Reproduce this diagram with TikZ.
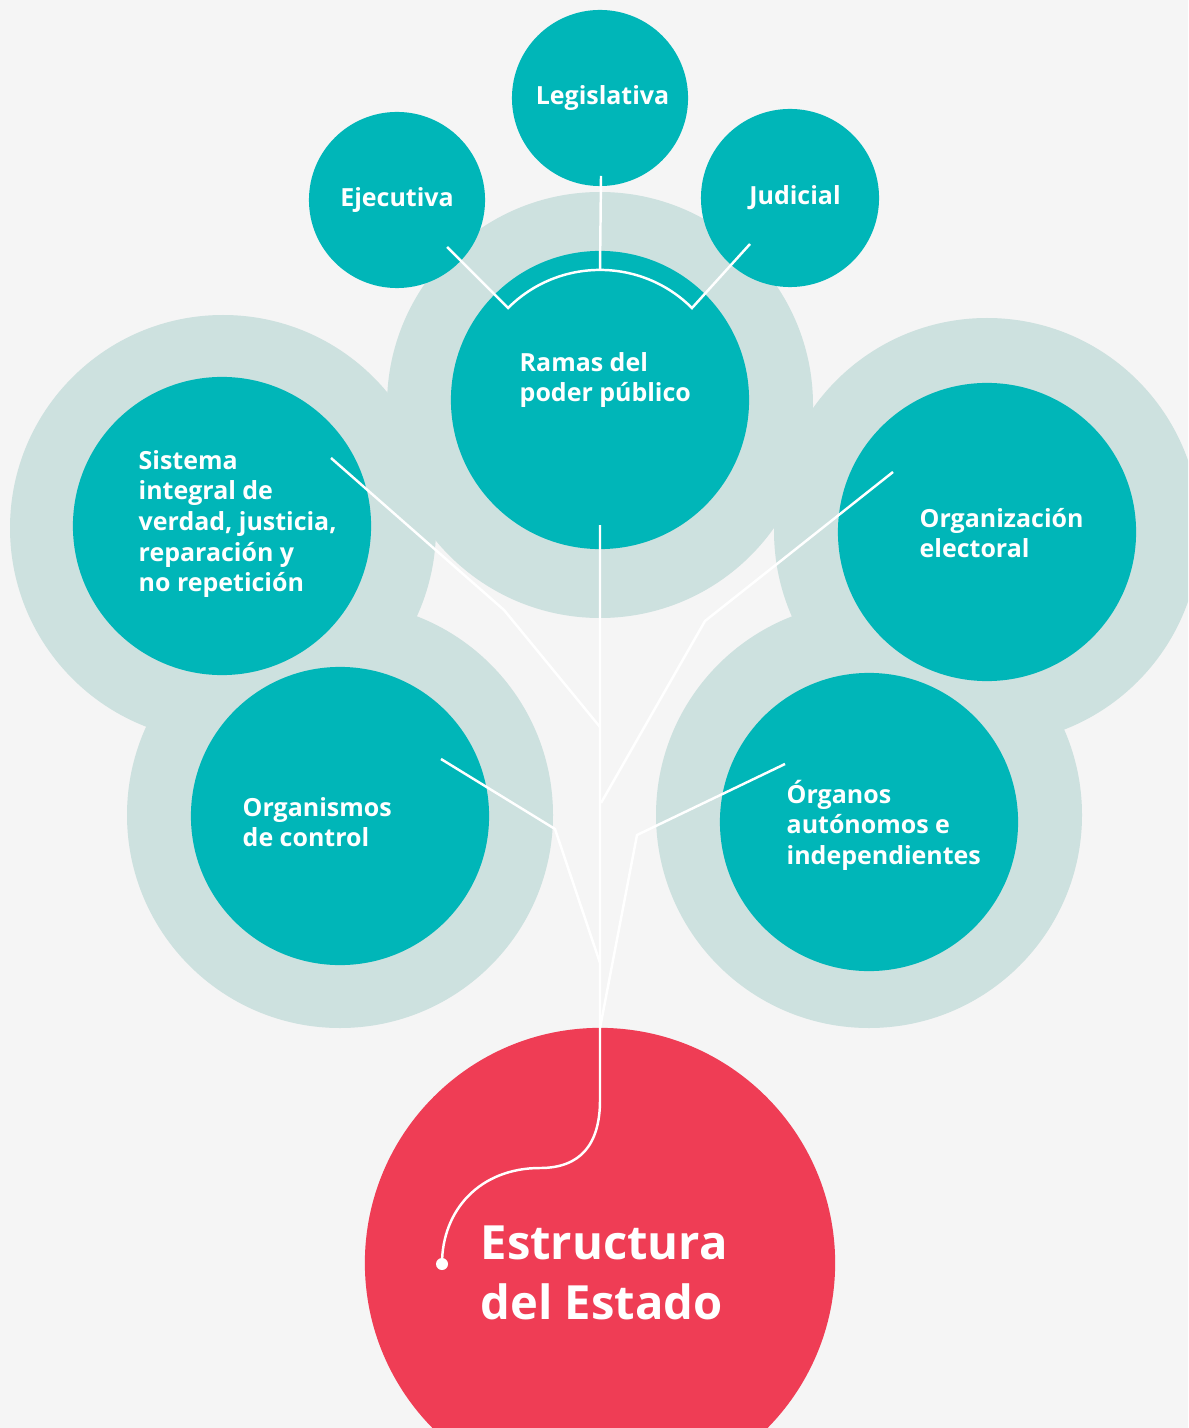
\documentclass[tikz,border=0pt]{standalone}
\usepackage{fontspec}
\setmainfont{Open Sans}
\usepackage{tikz}
\usetikzlibrary{positioning, calc}
\definecolor{bgray}{HTML}{F5F5F5}
\definecolor{halo}{HTML}{CDE1DF}
\definecolor{tealc}{HTML}{00B6B8}
\definecolor{redc}{HTML}{EF3D55}
\tikzstyle{branch} = [circle, fill=tealc, inner sep=0pt, minimum size=2.98cm]
\tikzstyle{leaf} = [circle, fill=tealc, inner sep=0pt, minimum size=1.76cm, text=white, font=\bfseries\fontsize{7.1}{8.7}\selectfont]
\tikzstyle{root} = [circle, fill=redc, inner sep=0pt, minimum size=4.7cm]
\tikzstyle{txt} = [text=white, align=left, inner sep=0pt, anchor=west, font=\bfseries\fontsize{7.1}{8.7}\selectfont]
\tikzstyle{wire} = [white, line width=0.7pt]

\begin{document}
\begin{tikzpicture}[x=0.01cm, y=-0.01cm]
\useasboundingbox (0,0) rectangle (1188,1428);
\clip (0,0) rectangle (1188,1428);
\fill[bgray] (0,0) rectangle (1188,1428);

% Light halos
\fill[halo] (600,405) circle[radius=213];
\fill[halo] (223,528) circle[radius=213];
\fill[halo] (340,815) circle[radius=213];
\fill[halo] (869,815) circle[radius=213];
\fill[halo] (987,531) circle[radius=213];

% Branches of power
\node (leg) [leaf] at (600,98) {\hspace*{0.05cm}Legislativa};
\node (eje) [leaf] at (397,200) {Ejecutiva};
\node (jud) [leaf, minimum size=1.78cm] at (790,198) {\hspace*{0.1cm}Judicial};

% Main circles
\node (ramas) [branch] at (600,400) {};
\node (sis) [branch] at (222,526) {};
\node (orgc) [branch] at (340,816) {};
\node (elec) [branch] at (987,532) {};
\node (auto) [branch] at (869,822) {};
\node (estado) [root] at (600,1263) {};

% Labels
\node (ramas-t) [txt] at (519,380) {Ramas del\\poder público};
\node (sis-t) [txt] at (138,524) {Sistema\\integral de\\verdad, justicia,\\reparación y\\no repetición};
\node (orgc-t) [txt] at (242,822) {Organismos\\de control};
\node (elec-t) [txt] at (919,533) {Organización\\electoral};
\node (auto-t) [txt] at (786,825) {Órganos\\autónomos e\\independientes};
\node (estado-t) [txt, font=\bfseries\fontsize{13.4}{17.1}\selectfont] at (480,1273) {Estructura\\del Estado};

% Wires
\coordinate (leg-in) at (601,176);
\coordinate (eje-in) at (447,247);
\coordinate (jud-in) at (750,244);
\coordinate (ramas-in) at (600,525);
\coordinate (sis-in) at (331,458);
\coordinate (elec-in) at (893,472);
\coordinate (orgc-in) at (441,759);
\coordinate (auto-in) at (785,764);
\coordinate (dot) at (442,1264);

\draw [wire] (leg-in) -- ($(ramas.center)+(90:1.3cm)$);
\draw [wire] (eje-in) -- ($(ramas.center)+(135:1.3cm)$) arc[start angle=135, end angle=45, radius=1.3cm] -- (jud-in);
\draw [wire] (sis-in) -- (504,610) -- (600,727);
\draw [wire] (elec-in) -- (705,621) -- (601,803);
\draw [wire] (orgc-in) -- (555,829) -- (600,963);
\draw [wire] (auto-in) -- (637,835) -- (600,1028);
\draw [wire] (ramas-in) -- (600,1100) .. controls (600,1145) and (580,1168) .. (540,1168) .. controls (480,1168) and (442,1210) .. (dot);
\fill[white] (dot) circle[radius=6];

\end{tikzpicture}
\end{document}
